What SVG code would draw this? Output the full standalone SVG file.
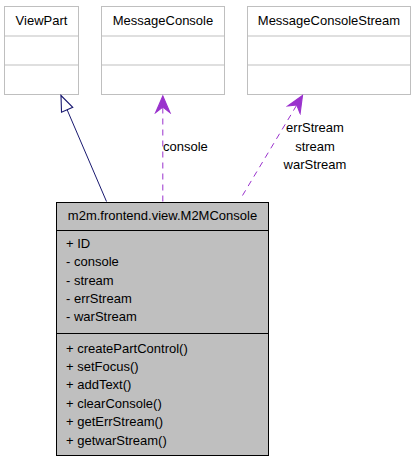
<svg xmlns="http://www.w3.org/2000/svg" width="416" height="464" viewBox="0 0 416 464">
<style>
text{font-family:"Liberation Sans",Arial,sans-serif;font-size:13px;fill:#000}
.c{text-anchor:middle}
.ext{fill:#fff;stroke:#bfbfbf;stroke-width:1}
.main{fill:#bfbfbf;stroke:#000;stroke-width:1}
.use{fill:none;stroke:#9a32cd;stroke-width:1;stroke-dasharray:6,5}
.inh{fill:none;stroke:#191970;stroke-width:1}
</style>
<defs>
<marker id="vee" markerUnits="userSpaceOnUse" markerWidth="20" markerHeight="20" viewBox="-16 -8 18 16" refX="0" refY="0" orient="auto">
<path d="M0,0 L-15,-6.5 L-10,0 L-15,6.5 Z" fill="#9a32cd" stroke="#9a32cd" stroke-width="1"/>
</marker>
<marker id="tri" markerUnits="userSpaceOnUse" markerWidth="20" markerHeight="20" viewBox="-16 -8 18 16" refX="0" refY="0" orient="auto">
<path d="M0,0 L-14,-5.5 L-14,5.5 Z" fill="#fff" stroke="#191970" stroke-width="1"/>
</marker>
</defs>
<rect width="416" height="464" fill="#fff"/>
<g id="ViewPart">
<rect class="ext" x="4.5" y="6.5" width="74" height="88"/>
<line class="ext" x1="4.5" y1="36" x2="78.5" y2="36"/>
<line class="ext" x1="4.5" y1="65" x2="78.5" y2="65"/>
<text class="c" x="41.5" y="24.5">ViewPart</text>
</g>
<g id="MessageConsole">
<rect class="ext" x="101.5" y="6.5" width="123" height="88"/>
<line class="ext" x1="101.5" y1="36" x2="224.5" y2="36"/>
<line class="ext" x1="101.5" y1="65" x2="224.5" y2="65"/>
<text class="c" x="163" y="24.5">MessageConsole</text>
</g>
<g id="MessageConsoleStream">
<rect class="ext" x="247.5" y="6.5" width="163" height="88"/>
<line class="ext" x1="247.5" y1="36" x2="410.5" y2="36"/>
<line class="ext" x1="247.5" y1="65" x2="410.5" y2="65"/>
<text class="c" x="329" y="24.5">MessageConsoleStream</text>
</g>
<g id="M2MConsole">
<rect class="main" x="56.5" y="202.5" width="212" height="253"/>
<line class="main" x1="56.5" y1="230.5" x2="268.5" y2="230.5"/>
<line class="main" x1="56.5" y1="333.5" x2="268.5" y2="333.5"/>
<text class="c" x="162.5" y="219.5">m2m.frontend.view.M2MConsole</text>
<text x="66" y="248">+ ID</text>
<text x="66" y="266.3">- console</text>
<text x="66" y="284.6">- stream</text>
<text x="66" y="302.9">- errStream</text>
<text x="66" y="321.2">- warStream</text>
<text x="66" y="352.5">+ createPartControl()</text>
<text x="66" y="370.9">+ setFocus()</text>
<text x="66" y="389.3">+ addText()</text>
<text x="66" y="407.7">+ clearConsole()</text>
<text x="66" y="426.1">+ getErrStream()</text>
<text x="66" y="444.5">+ getwarStream()</text>
</g>
<g id="edges">
<line class="inh" x1="106.5" y1="201.5" x2="61" y2="95.5" marker-end="url(#tri)"/>
<line class="use" x1="162.8" y1="201.5" x2="162.8" y2="96" marker-end="url(#vee)"/>
<line class="use" x1="242.5" y1="195.5" x2="302.5" y2="95.5" marker-end="url(#vee)"/>
<text x="163" y="151">console</text>
<text class="c" x="315" y="132">errStream</text>
<text class="c" x="315" y="151">stream</text>
<text class="c" x="315" y="169">warStream</text>
</g>
</svg>
